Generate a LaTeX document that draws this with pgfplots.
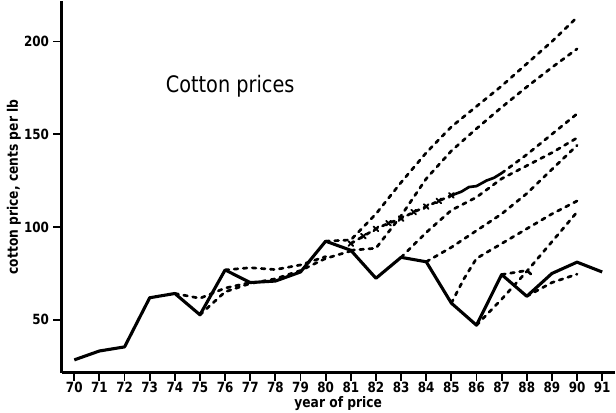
\documentclass[border=0pt]{standalone}
\usepackage{fontspec}
\setmainfont{DejaVu Sans}
\newfontfamily\plotfont[FakeStretch=0.85]{DejaVu Sans}
\usepackage{pgfplots}
\pgfplotsset{compat=1.18}

\begin{document}
\begin{tikzpicture}
\begin{axis}[
    scale only axis,
    width=268pt, height=180pt,
    xmin=69.5, xmax=91.5,
    ymin=21.4, ymax=221.7,
    axis x line*=bottom,
    axis y line*=left,
    axis line style={line width=1.2pt},
    xtick={70,...,91},
    ytick={50,100,150,200},
    tick align=outside,
    major tick length=4pt,
    tick style={line width=0.9pt, black},
    /pgf/number format/assume math mode=true,
    ticklabel style={font=\plotfont\bfseries\fontsize{6.8}{8}\selectfont},
    xticklabel style={inner sep=0.5pt},
    yticklabel style={inner sep=2pt},
    xlabel={year of price},
    ylabel={cotton price, cents per lb},
    label style={font=\plotfont\bfseries\fontsize{7}{8}\selectfont},
    xlabel style={inner sep=1pt},
    ylabel style={yshift=-4pt},
    solid line/.style={black, line width=1.5pt, line join=round},
    fc/.style={black, line width=1.3pt, line cap=round, dash pattern=on 1.8pt off 2.6pt},
]
% actual prices
\addplot[solid line] coordinates {
  (70,28.3) (71,33.1) (72,35.3) (73,61.8) (74,64.1) (75,52.6) (76,76.8)
  (77,70.0) (78,70.8) (79,75.7) (80,92.3) (81,87.4) (82,72.3) (83,83.6)
  (84,81.2) (85,58.9) (86,47.0) (87,74.3) (88,62.6) (89,74.9) (90,81.0) (91,75.7)
};
% forecasts
\addplot[fc] coordinates {(74,64.1) (75,61.5) (76,67) (77,70)};
\addplot[fc] coordinates {(75,52.6) (76,65) (77,69.5) (78,72) (79,76.5) (80,83) (81,87)};
\addplot[fc] coordinates {(76,76.8) (77,78) (78,77) (79,79.5) (80,84)};
\addplot[fc] coordinates {(80,92.3) (81,93) (82,107) (83,124) (84,140) (85,154)
  (86,165) (87,176) (88,188) (89,200) (90,213)};
\addplot[fc] coordinates {(81,87.4) (82,88.5) (83,106) (84,126) (85,141) (86,153)
  (87,164.5) (88,175.5) (89,186) (90,196)};
\addplot[fc, mark=x, mark size=1.6pt, mark options={solid, line width=0.9pt}] coordinates {
  (81,91) (81.5,95) (82,99) (82.5,102) (83,104.5) (83.5,108) (84,111) (84.5,114) (85,117)};
\addplot[black, line width=1.3pt, line join=round] coordinates {
  (85,117) (85.4,119) (85.7,121.5) (86,122) (86.4,125) (86.7,126.5) (87,129)};
\addplot[fc] coordinates {(87,129) (88,139) (89,150) (90,161)};
\addplot[fc] coordinates {(83,83.6) (84,97) (85,109) (86,116) (87,126) (88,133) (89,140) (90,148)};
\addplot[fc] coordinates {(84,81.2) (85,89) (86,98) (87,107) (88,118) (89,131) (90,144)};
\addplot[fc] coordinates {(85,58.9) (85.5,72) (86,83) (87,91) (88,99) (89,107) (90,114)};
\addplot[fc] coordinates {(86,47) (87,61) (88,76) (89,92) (90,108)};
\addplot[fc] coordinates {(87,74.3) (88,76.5) (88.3,73)};
\addplot[fc] coordinates {(88,62.6) (89,70) (90,74.5)};
\node[font=\plotfont\fontsize{11}{13}\selectfont] at (axis cs:76.2,175.6) {Cotton prices};
\end{axis}
\end{tikzpicture}
\end{document}
